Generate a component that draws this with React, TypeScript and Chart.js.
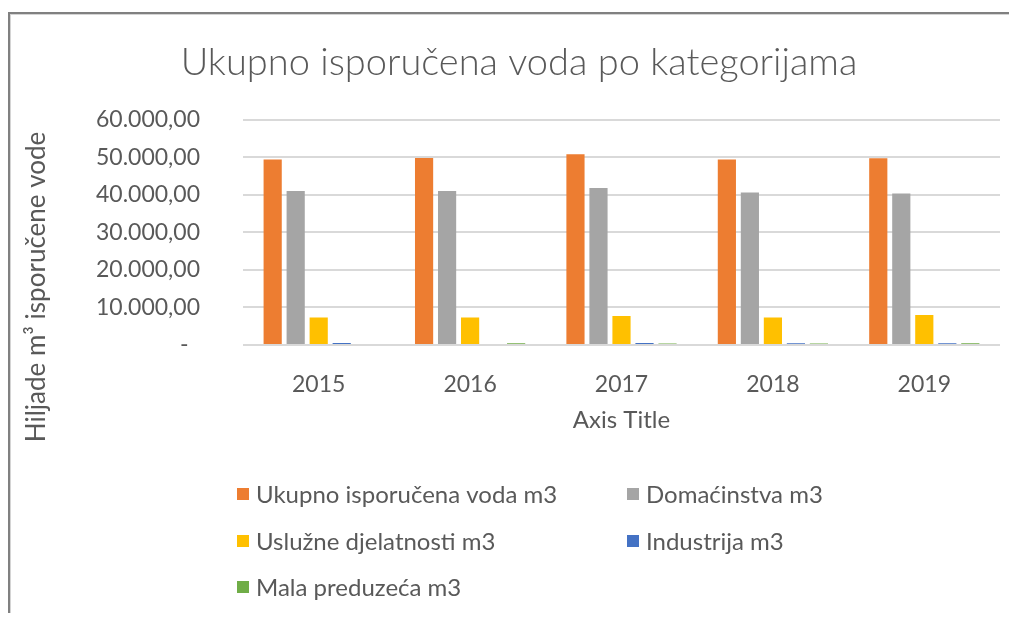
import React, { useEffect, useRef } from 'react';
import { Chart, registerables } from 'chart.js';

Chart.register(...registerables);

const categories = ['2015', '2016', '2017', '2018', '2019'];
const ukupnoIsporucena = [49400, 49800, 50800, 49400, 49700];
const domacinstva = [41000, 41000, 41800, 40600, 40300];
const usluzneDjelatnosti = [7300, 7300, 7700, 7300, 8000];
const industrija = [520, 0, 500, 480, 470];
const malaPreduzeca = [0, 450, 420, 430, 440];

const seriesNames = [
  'Ukupno isporučena voda m3',
  'Domaćinstva m3',
  'Uslužne djelatnosti m3',
  'Industrija m3',
  'Mala preduzeća m3',
];
const seriesValues = [ukupnoIsporucena, domacinstva, usluzneDjelatnosti, industrija, malaPreduzeca];
const seriesColors = ['#ED7D31', '#A5A5A5', '#FFC000', '#4472C4', '#70AD47'];

const titleText = 'Ukupno isporučena voda po kategorijama';
const yTitleText = 'Hiljade m³ isporučene vode';
const xTitleText = 'Axis Title';
const yMax = 60000;
const yStep = 10000;

const FONT = "Lato, 'Open Sans', sans-serif";
const TEXT = '#595959';

function formatTick(v: number): string {
  if (v === 0) return '-\u2002';
  const s = Math.round(v).toString();
  let out = '';
  for (let i = 0; i < s.length; i++) {
    if (i > 0 && (s.length - i) % 3 === 0) out += '.';
    out += s[i];
  }
  return out + ',00';
}

const extrasPlugin = {
  id: 'extras',
  afterDraw(chart: any) {
    const ctx = chart.ctx as CanvasRenderingContext2D;
    ctx.save();
    ctx.font = `24px ${FONT}`;
    ctx.textBaseline = 'middle';
    ctx.textAlign = 'left';
    const colX = [227, 617];
    const rowY = [480, 527, 573];
    chart.data.datasets.forEach((ds: any, i: number) => {
      const x = colX[i % 2];
      const y = rowY[Math.floor(i / 2)];
      ctx.fillStyle = ds.backgroundColor;
      ctx.fillRect(x, y - 6, 12, 12);
      ctx.fillStyle = TEXT;
      ctx.fillText(ds.label, x + 19, y + 1);
    });
    ctx.translate(27, 273);
    ctx.rotate(-Math.PI / 2);
    ctx.textAlign = 'center';
    ctx.font = `26px ${FONT}`;
    ctx.fillStyle = TEXT;
    ctx.fillText(yTitleText, 0, 0);
    ctx.restore();
  },
};

export default function App() {
  const ref = useRef<HTMLCanvasElement | null>(null);
  useEffect(() => {
    if (!ref.current) return;
    const chart = new Chart(ref.current, {
      type: 'bar',
      data: {
        labels: categories,
        datasets: seriesNames.map((name, i) => ({
          label: name,
          data: seriesValues[i],
          backgroundColor: seriesColors[i],
          borderWidth: 0,
          categoryPercentage: 0.76,
          barPercentage: 0.79,
        })),
      },
      options: {
        animation: false,
        responsive: false,
        maintainAspectRatio: false,
        layout: { padding: { left: 28, right: 9, top: 0, bottom: 178 } },
        plugins: {
          legend: { display: false },
          tooltip: { enabled: false },
          title: {
            display: true,
            text: titleText,
            color: TEXT,
            font: { family: FONT, size: 38, weight: '300' as any },
            padding: { top: 26, bottom: 34 },
          },
        },
        scales: {
          x: {
            grid: { display: false },
            border: { display: false },
            ticks: { color: TEXT, font: { family: FONT, size: 23 }, padding: 18 },
            title: {
              display: true,
              text: xTitleText,
              color: TEXT,
              font: { family: FONT, size: 24 },
              padding: { top: 0, bottom: 0 },
            },
            afterFit: (s: any) => {
              s.height = 90;
            },
          },
          y: {
            min: 0,
            max: yMax,
            grid: { color: '#D9D9D9', lineWidth: 2, drawTicks: false },
            border: { display: false },
            ticks: {
              stepSize: yStep,
              color: TEXT,
              font: { family: FONT, size: 23 },
              padding: 43,
              callback: (v: any) => formatTick(Number(v)),
            },
            afterFit: (s: any) => {
              s.width = 205;
            },
          },
        },
      },
      plugins: [extrasPlugin],
    });
    return () => chart.destroy();
  }, []);

  return (
    <div
      style={{
        marginTop: 4,
        height: 599,
        borderTop: '2px solid #808080',
        borderLeft: '2px solid #808080',
        boxShadow: 'inset 1px 1px 0 #d4d4d4',
        overflow: 'hidden',
      }}
    >
      <canvas ref={ref} width={999} height={599} style={{ display: 'block' }} />
    </div>
  );
}
